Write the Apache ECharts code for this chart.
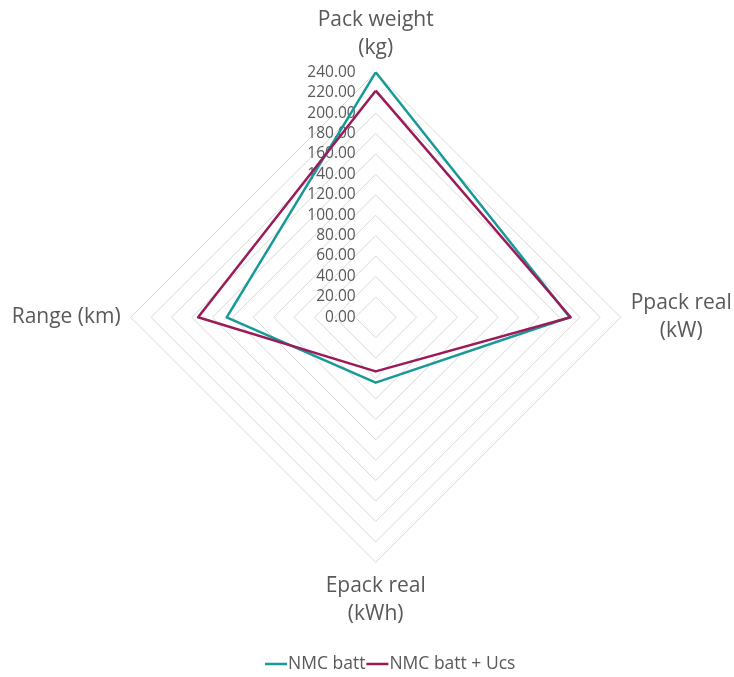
<!DOCTYPE html>
<html>
<head>
<meta charset="utf-8">
<script src="https://cdn.jsdelivr.net/npm/echarts@6/dist/echarts.min.js"></script>
<style>
  html, body { margin: 0; padding: 0; background: #fff; }
  #chart { width: 734px; height: 677px; }
</style>
</head>
<body>
<div id="chart"></div>
<script>
// Radar axes, listed in counter-clockwise order starting from the top
const indicatorNames = ['Pack weight\n(kg)', 'Range (km)', 'Epack real\n(kWh)', 'Ppack real\n(kW)'];
const axisMax = 240;
const axisSplits = 12;

const seriesNames = ['NMC batt', 'NMC batt + Ucs'];
const nmcBatt = [240, 146, 64, 190];
const nmcBattUcs = [222, 174, 53, 191];

const seriesColors = ['#17999A', '#9A1B57'];
const textGray = '#595959';
const fontFamily = '"Open Sans", "Noto Sans", sans-serif';

const chart = echarts.init(document.getElementById('chart'));

const indicator = indicatorNames.map((name, i) => {
  const ind = { name: name, min: 0, max: axisMax };
  // only the top axis carries the value labels
  if (i === 0) {
    ind.axisLabel = { show: true };
  }
  return ind;
});

chart.setOption({
  animation: false,
  backgroundColor: '#ffffff',
  legend: {
    top: 650,
    left: 260,
    itemGap: 1,
    itemWidth: 22,
    itemHeight: 2.5,
    icon: 'rect',
    textStyle: {
      color: textGray,
      fontSize: 17.5,
      fontFamily: fontFamily,
      padding: [0, 0, 0, -4]
    },
    data: seriesNames
  },
  radar: {
    center: [375.7, 317.3],
    radius: 245,
    startAngle: 90,
    shape: 'polygon',
    splitNumber: axisSplits,
    nameGap: 10,
    axisName: {
      color: textGray,
      fontSize: 21,
      lineHeight: 28,
      fontFamily: fontFamily,
      // centre every line of a two-line name within its block
      formatter: name => name.split('\n').map(l => '{c|' + l + '}').join('\n'),
      rich: {
        c: {
          align: 'center',
          color: textGray,
          fontSize: 21,
          lineHeight: 28,
          fontFamily: fontFamily
        }
      }
    },
    axisLine: { show: false },
    axisTick: { show: false },
    splitArea: { show: false },
    splitLine: { lineStyle: { color: '#d9d9d9', width: 1 } },
    axisLabel: {
      show: false,
      color: textGray,
      fontSize: 15.5,
      fontFamily: fontFamily,
      margin: 20,
      formatter: v => Number(v).toFixed(2)
    },
    indicator: indicator
  },
  series: [{
    type: 'radar',
    symbol: 'none',
    data: [
      {
        name: seriesNames[0],
        value: nmcBatt,
        lineStyle: { color: seriesColors[0], width: 2.5 },
        itemStyle: { color: seriesColors[0] }
      },
      {
        name: seriesNames[1],
        value: nmcBattUcs,
        lineStyle: { color: seriesColors[1], width: 2.5 },
        itemStyle: { color: seriesColors[1] }
      }
    ]
  }]
});
</script>
</body>
</html>
